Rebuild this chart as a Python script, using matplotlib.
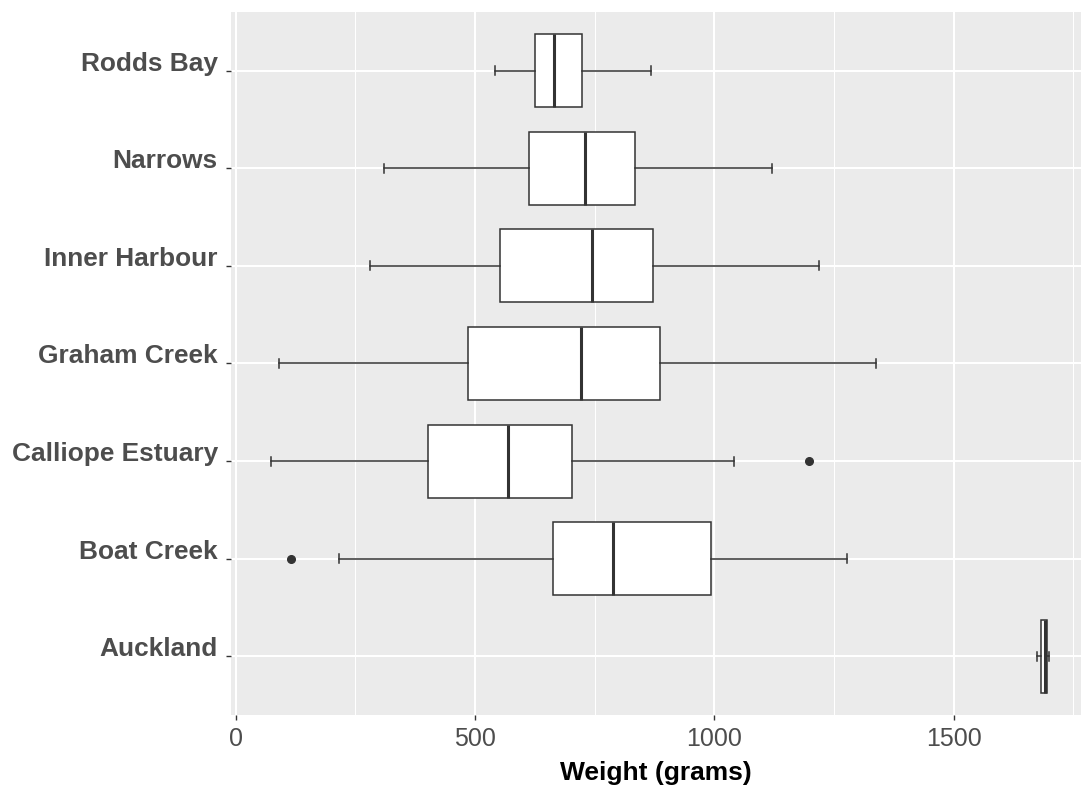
import matplotlib
matplotlib.use("Agg")
import matplotlib.pyplot as plt
from matplotlib.ticker import MultipleLocator

plt.rcParams['font.family'] = ['Liberation Sans', 'DejaVu Sans']

# Data (bottom to top)
categories = ["Auckland", "Boat Creek", "Calliope Estuary", "Graham Creek",
              "Inner Harbour", "Narrows", "Rodds Bay"]
whisker_lo = [1674, 217, 74, 91, 280, 311, 541]
q1 = [1683, 664, 402, 486, 552, 613, 626]
median = [1690, 788, 569, 722, 745, 730, 666]
q3 = [1695, 993, 703, 887, 873, 835, 724]
whisker_hi = [1700, 1278, 1042, 1338, 1219, 1121, 867]
outliers = [[], [116], [1198], [], [], [], []]
x_ticks = [0, 500, 1000, 1500]

stats = []
for i, c in enumerate(categories):
    stats.append(dict(label=c, whislo=whisker_lo[i], q1=q1[i], med=median[i],
                      q3=q3[i], whishi=whisker_hi[i], fliers=outliers[i]))

fig = plt.figure(figsize=(10.81, 7.87), dpi=100)
W, H = 1081, 787
ax = fig.add_axes([231 / W, 1 - 715 / H, (1081 - 231) / W, (715 - 12) / H])
ax.set_facecolor('#EBEBEB')

edge = '#333333'
positions = list(range(1, len(categories) + 1))
ax.bxp(stats, positions=positions, widths=0.75, orientation='horizontal',
       patch_artist=True, capwidths=0.09,
       boxprops=dict(facecolor='white', edgecolor=edge, linewidth=1.1),
       medianprops=dict(color=edge, linewidth=2.2),
       whiskerprops=dict(color=edge, linewidth=1.1),
       capprops=dict(color=edge, linewidth=1.1),
       flierprops=dict(marker='o', markerfacecolor=edge, markeredgecolor=edge,
                       markersize=5.5, linestyle='none'),
       zorder=3)

ax.set_xlim(-9.4, 1766)
ax.set_ylim(0.4, len(categories) + 0.6)
ax.set_xticks(x_ticks)
ax.set_xticklabels([str(t) for t in x_ticks])
ax.xaxis.set_minor_locator(MultipleLocator(250))
ax.set_yticks(positions)
ax.set_yticklabels(categories, fontweight='bold', va='baseline')

ax.grid(which='major', color='white', linewidth=1.5, zorder=0)
ax.grid(which='minor', axis='x', color='white', linewidth=0.75, zorder=0)
ax.set_axisbelow(True)
for s in ax.spines.values():
    s.set_visible(False)

ax.tick_params(axis='x', which='major', length=3.5, width=1.0, color='#333333',
               labelsize=18, labelcolor='#4D4D4D', pad=5)
ax.tick_params(axis='x', which='minor', length=0)
ax.tick_params(axis='y', which='major', length=3.5, width=1.0, color='#333333',
               labelsize=18.9, labelcolor='#4D4D4D', pad=6)

ax.set_xlabel('Weight (grams)', fontsize=19, fontweight='bold', color='black',
              labelpad=7)

fig.savefig('out.png', dpi=100)
